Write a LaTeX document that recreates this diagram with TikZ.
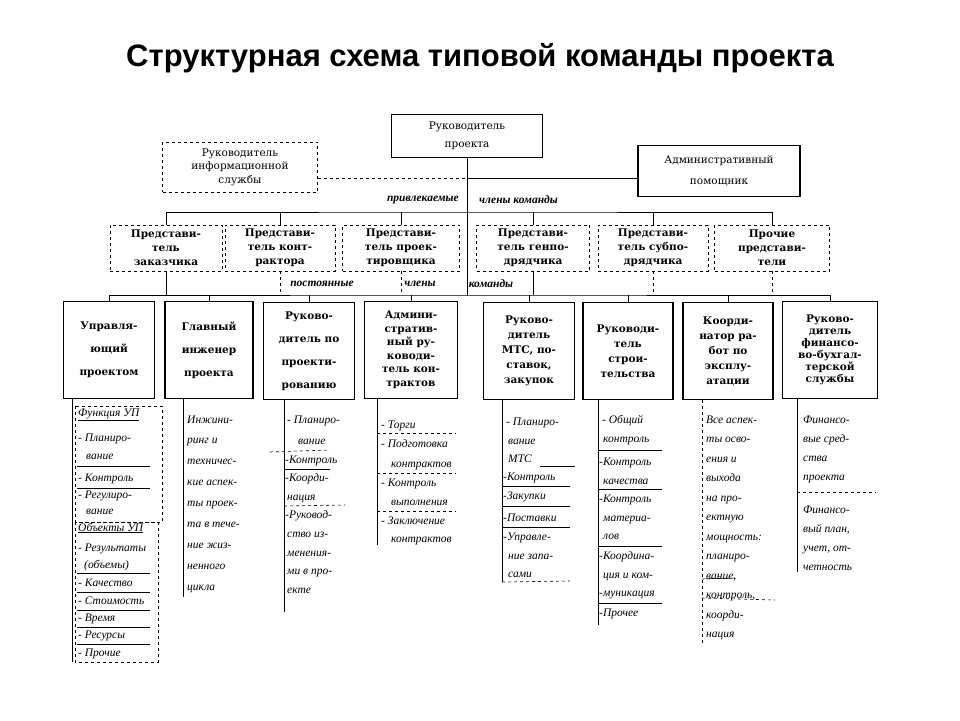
\documentclass[tikz,border=0pt]{standalone}
\usepackage{fontspec}
\setmainfont{Liberation Serif}
\newfontfamily\titlefont{Liberation Sans}
\newfontfamily\boxfont{DejaVu Serif}

\begin{document}
\begin{tikzpicture}[
    x=1pt,y=-1pt,
    topbox/.style={draw,line width=1.3pt,align=center,inner sep=1pt,
      font=\boxfont\fontsize{10.5}{#1}\selectfont},
    topbox/.default=18,
    box/.style={draw,line width=1.4pt,align=center,inner sep=1pt,
      minimum width=91pt,minimum height=97pt,
      font=\boxfont\bfseries\fontsize{10.5}{#1}\selectfont},
    box/.default=23,
    dbox/.style={draw,dashed,line width=0.7pt,align=center,inner sep=1pt,
      minimum height=46pt,font=\boxfont\bfseries\fontsize{10.5}{14}\selectfont},
    lbl/.style={font=\bfseries\itshape\fontsize{11.5}{13}\selectfont,inner sep=1pt},
    item/.style={anchor=west,inner sep=0pt,text height=8pt,text depth=2pt,
      font=\itshape\fontsize{11.5}{13}\selectfont},
    sep/.style={line width=0.6pt},
    link/.style={line width=0.7pt}
    ]
    \useasboundingbox (0,0) rectangle (960,720);
    \node[font=\titlefont\bfseries\fontsize{31}{34}\selectfont] (title) at (480,58)
      {Структурная схема типовой команды проекта};

    % top
    \node[topbox,minimum width=151pt,minimum height=43pt] (rp) at (467,136) {Руководитель\\проекта};
    \node[topbox=13.5,dashed,line width=0.7pt,minimum width=155pt,minimum height=50pt] (ri) at (240,167)
      {Руководитель\\информационной\\службы};
    \node[topbox=21,minimum width=162pt,minimum height=51pt] (ap) at (719,171) {Административный\\помощник};
    \coordinate (j1) at (467,178);
    \draw[link,dashed] (ri.east |- j1) -- (j1);
    \draw[link] (j1) -- (ap.west |- j1);

    % invited members
    \node[dbox,minimum width=112pt] (r2a) at (166,248) {Представи-\\тель\\заказчика};
    \node[dbox,minimum width=110pt] (r2b) at (280,248) {Представи-\\тель конт-\\рактора};
    \node[dbox,minimum width=117pt] (r2c) at (401,248) {Представи-\\тель проек-\\тировщика};
    \node[dbox,minimum width=113pt] (r2d) at (533,248) {Представи-\\тель генпо-\\дрядчика};
    \node[dbox,minimum width=110pt] (r2e) at (653,248) {Представи-\\тель субпо-\\дрядчика};
    \node[dbox,minimum width=115pt] (r2f) at (772,248) {Прочие\\представи-\\тели};
    \coordinate (bus2) at (467,212);
    \draw[link] (r2a.north) |- (bus2) -| (r2f.north);
    \foreach \n in {b,c,d,e}
      \draw[link] (r2\n.north) -- (r2\n.north |- bus2);
    \node[lbl,anchor=east] (inv1) at (460,200) {привлекаемые};
    \node[lbl,anchor=west] (inv2) at (478,200) {члены команды};

    % permanent members
    \node[box] (r3a) at (109,350) {Управля-\\ющий\\проектом};
    \node[box,minimum width=88pt] (r3b) at (209,350) {Главный\\инженер\\проекта};
    \node[box] (r3c) at (309,351) {Руково-\\дитель по\\проекти-\\рованию};
    \node[box=13.5,minimum width=93pt] (r3d) at (411,350) {Админи-\\стратив-\\ный ру-\\ководи-\\тель кон-\\трактов};
    \node[box=15] (r3e) at (529,351) {Руково-\\дитель\\МТС, по-\\ставок,\\закупок};
    \node[box=15,minimum width=90pt] (r3f) at (628,351) {Руководи-\\тель\\строи-\\тельства};
    \node[box=15,minimum width=90pt] (r3g) at (728,351) {Коорди-\\натор ра-\\бот по\\эксплу-\\атации};
    \node[box=12,minimum width=95pt] (r3h) at (830,350) {Руково-\\дитель\\финансо-\\во-бухгал-\\терской\\службы};
    \coordinate (bus3) at (467,295);
    \draw[link] (rp.south) -- (bus3);
    \draw[link] (r3a.north) |- (bus3) -| (r3h.north);
    \foreach \n in {b,c,d,e,f,g}
      \draw[link] (r3\n.north) -- (r3\n.north |- bus3);
    \draw[link] (r2a.south) -- (r2a.south |- bus3);
    \draw[link] (r2d.south) -- (r2d.south |- bus3);
    \foreach \n in {b,c,e,f}
      \draw[link,dashed] (r2\n.south) -- (r2\n.south |- bus3);
    \node[lbl] (per1) at (322,284) {постоянные};
    \node[lbl] (per2) at (420,284) {члены};
    \node[lbl] (per3) at (491,284) {команды};

    % list 1
    \coordinate (l1) at (72,662);
    \draw[link] (l1 |- r3a.south) -- (l1);
    \draw[sep,dashed] (75,406) rectangle (162,522);
    \draw[sep,dashed] (75,522) rectangle (158,662);
    \foreach \xx/\yy/\t [count=\i] in {78/413/\underline{Функция УП},78/438/- Планиро-,86/456/вание,
        78/478/- Контроль,78/495/- Регулиро-,86/511/вание,78/528/\underline{Объекты УП},
        78/548/- Результаты,84/565/(объемы),78/583/- Качество,78/601/- Стоимость,
        78/618/- Время,78/635/- Ресурсы,78/653/- Прочие}
      \node[item] (l1-\i) at (\xx,\yy) {\t};
    \foreach \yy in {466,488,573,592,610,627,644}
      \draw[sep] (77,\yy) -- (150,\yy);

    % list 2
    \coordinate (l2) at (183,597);
    \draw[link] (l2 |- r3b.south) -- (l2);
    \foreach \t [count=\i] in {Инжини-,ринг и,техничес-,кие аспек-,ты проек-,та в тече-,ние жиз-,ненного,цикла}
      \node[item] (l2-\i) at (187,{420+20.9*(\i-1)}) {\t};

    % list 3
    \coordinate (l3) at (284,612);
    \draw[link] (l3 |- r3c.south) -- (l3);
    \foreach \xx/\yy/\t [count=\i] in {287/420/- Планиро-,298/441/вание,285/460/-Контроль,285/478/-Коорди-,
        287/497/нация,285/515/-Руковод-,287/534/ство из-,287/553/менения-,287/571/ми в про-,287/590/екте}
      \node[item] (l3-\i) at (\xx,\yy) {\t};
    \draw[sep,dashed] (270,452) -- (330,450);
    \draw[sep] (284,469) -- (330,469);
    \draw[sep,dashed] (284,506) -- (345,505);

    % list 4
    \coordinate (l4) at (377,545);
    \draw[link] (l4 |- r3d.south) -- (l4);
    \foreach \xx/\yy/\t [count=\i] in {381/425/- Торги,381/444/- Подготовка,391/464/контрактов,
        381/483/- Контроль,391/502/выполнения,381/521/- Заключение,391/539/контрактов}
      \node[item] (l4-\i) at (\xx,\yy) {\t};
    \foreach \yy in {433,473,511}
      \draw[sep,dashed] (377,\yy) -- (456,\yy);

    % list 5
    \coordinate (l5) at (502,582);
    \draw[link] (l5 |- r3e.south) -- (l5);
    \foreach \xx/\yy/\t [count=\i] in {506/422/- Планиро-,508/441/вание,508/459/МТС,503/477/-Контроль,
        503/496/-Закупки,503/518/-Поставки,503/537/-Управле-,508/556/ние запа-,508/574/сами}
      \node[item] (l5-\i) at (\xx,\yy) {\t};
    \draw[sep] (540,466) -- (575,466);
    \foreach \yy in {486,506,527}
      \draw[sep] (502,\yy) -- (570,\yy);
    \draw[sep,dashed] (502,582) -- (570,581);

    % list 6
    \coordinate (l6) at (598,625);
    \draw[link] (l6 |- r3f.south) -- (l6);
    \foreach \xx/\yy/\t [count=\i] in {602/420/- Общий,603/439/контроль,599/462/-Контроль,603/481/качества,
        599/499/-Контроль,603/518/материа-,603/536/лов,599/556/-Координа-,603/575/ция и ком-,
        599/593/-муникация,599/613/-Прочее}
      \node[item] (l6-\i) at (\xx,\yy) {\t};
    \foreach \yy in {450,489,546,603}
      \draw[sep] (598,\yy) -- (662,\yy);

    % list 7
    \coordinate (l7) at (702,645);
    \draw[link,dashed] (l7 |- r3g.south) -- (l7);
    \foreach \t [count=\i] in {Все аспек-,ты осво-,ения и,выхода,на про-,ектную,мощность:,планиро-,
        {вание,},{контроль,},коорди-,нация}
      \node[item] (l7-\i) at (706,{420+19.5*(\i-1)}) {\t};
    \draw[sep] (702,579) -- (735,578);
    \draw[sep,dashed] (702,598) -- (775,600);

    % list 8
    \coordinate (l8) at (797,572);
    \draw[link] (l8 |- r3h.south) -- (l8);
    \foreach \t [count=\i] in {Финансо-,вые сред-,ства,проекта}
      \node[item] (l8-\i) at (803,{420+19*(\i-1)}) {\t};
    \foreach \t [count=\i] in {Финансо-,{вый план,},{учет, от-},четность}
      \node[item] (l8-\i b) at (803,{510+19.3*(\i-1)}) {\t};
    \draw[sep,dashed] (797,492) -- (876,492);
\end{tikzpicture}
\end{document}
